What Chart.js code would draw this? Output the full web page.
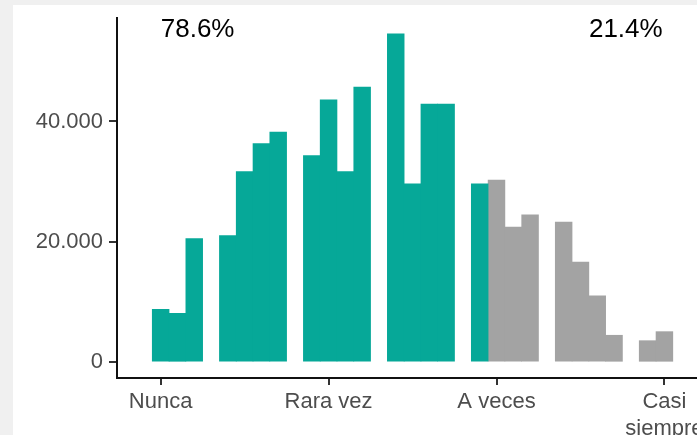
<!DOCTYPE html>
<html>
<head>
<meta charset="utf-8">
<script src="https://cdn.jsdelivr.net/npm/chart.js@4.4.1/dist/chart.umd.min.js"></script>
<style>
  html, body { margin: 0; padding: 0; background: #f0f0f0; overflow: hidden; }
  #panel { position: absolute; left: 13px; top: 5px; width: 900px; height: 430px; background: #fff; overflow: hidden; }
</style>
</head>
<body>
<div id="panel"><canvas id="myChart" width="900" height="430"></canvas></div>
<script>
// x positions are answer scale values (1 = Nunca ... 4 = Casi siempre), in steps of 0.1
const tealBins = [1.0, 1.1, 1.2, 1.4, 1.5, 1.6, 1.7, 1.9, 2.0, 2.1, 2.2, 2.4, 2.5, 2.6, 2.7, 2.9];
const tealCounts = [8790, 8130, 20560, 21060, 31690, 36340, 38240, 34350, 43610, 31690, 45720, 54580, 29640, 42890, 42890, 29640];
const grayBins = [3.0, 3.1, 3.2, 3.4, 3.5, 3.6, 3.7, 3.9, 4.0];
const grayCounts = [30260, 22440, 24490, 23280, 16630, 11020, 4490, 3590, 5090];

const xTicks = [1, 2, 3, 4];
const xLabels = ['Nunca', 'Rara vez', 'A veces', ['Casi', 'siempre']];
const yTicks = [0, 20000, 40000];

const pctLabels = ['78.6%', '21.4%'];
const pctX = [1.22, 3.77];
const pctY = 55250;

function fmt(v) {
    return String(v).replace(/\B(?=(\d{3})+(?!\d))/g, '.');
}

const pctPlugin = {
    id: 'pct',
    afterDatasetsDraw(chart) {
        const ctx = chart.ctx;
        const xs = chart.scales.x, ys = chart.scales.y;
        ctx.save();
        ctx.font = '26px "Liberation Sans", Arial, sans-serif';
        ctx.fillStyle = '#000';
        ctx.textAlign = 'center';
        ctx.textBaseline = 'middle';
        pctLabels.forEach((t, i) => {
            ctx.fillText(t, xs.getPixelForValue(pctX[i]), ys.getPixelForValue(pctY));
        });
        ctx.restore();
    }
};

const tickFont = { family: '"Liberation Sans", Arial, sans-serif', size: 22 };

new Chart(document.getElementById('myChart'), {
    type: 'bar',
    data: {
        datasets: [{
            data: tealBins.map((b, i) => ({ x: b, y: tealCounts[i] })),
            backgroundColor: '#06a898',
            grouped: false,
            barPercentage: 1,
            categoryPercentage: 1
        }, {
            data: grayBins.map((b, i) => ({ x: b, y: grayCounts[i] })),
            backgroundColor: '#a3a3a3',
            grouped: false,
            barPercentage: 1,
            categoryPercentage: 1
        }]
    },
    options: {
        responsive: false,
        animation: false,
        devicePixelRatio: 1,
        layout: { padding: { top: 13, right: 37, left: 0, bottom: 0 } },
        plugins: { legend: { display: false }, tooltip: { enabled: false } },
        scales: {
            x: {
                type: 'linear',
                min: 0.74,
                max: 5.26,
                offset: false,
                afterBuildTicks: s => { s.ticks = xTicks.map(v => ({ value: v })); },
                afterFit: s => { s.height = 57; s.paddingLeft = 0; s.paddingRight = 0; },
                ticks: {
                    autoSkip: false,
                    maxRotation: 0,
                    padding: 4,
                    color: '#4d4d4d',
                    font: tickFont,
                    callback: v => xLabels[xTicks.indexOf(v)]
                },
                grid: { display: true, offset: false, drawOnChartArea: false, tickLength: 7, tickColor: '#333', lineWidth: 2 },
                border: { display: true, color: '#111', width: 2 }
            },
            y: {
                min: -2610,
                max: 57190,
                afterBuildTicks: s => { s.ticks = yTicks.map(v => ({ value: v })); },
                afterFit: s => { s.width = 104; s.paddingTop = 0; s.paddingBottom = 0; },
                ticks: {
                    padding: 6,
                    color: '#4d4d4d',
                    font: tickFont,
                    callback: v => fmt(v)
                },
                grid: { display: true, drawOnChartArea: false, tickLength: 8, tickColor: '#333', lineWidth: 2 },
                border: { display: true, color: '#111', width: 2 }
            }
        }
    },
    plugins: [pctPlugin]
});
</script>
</body>
</html>
